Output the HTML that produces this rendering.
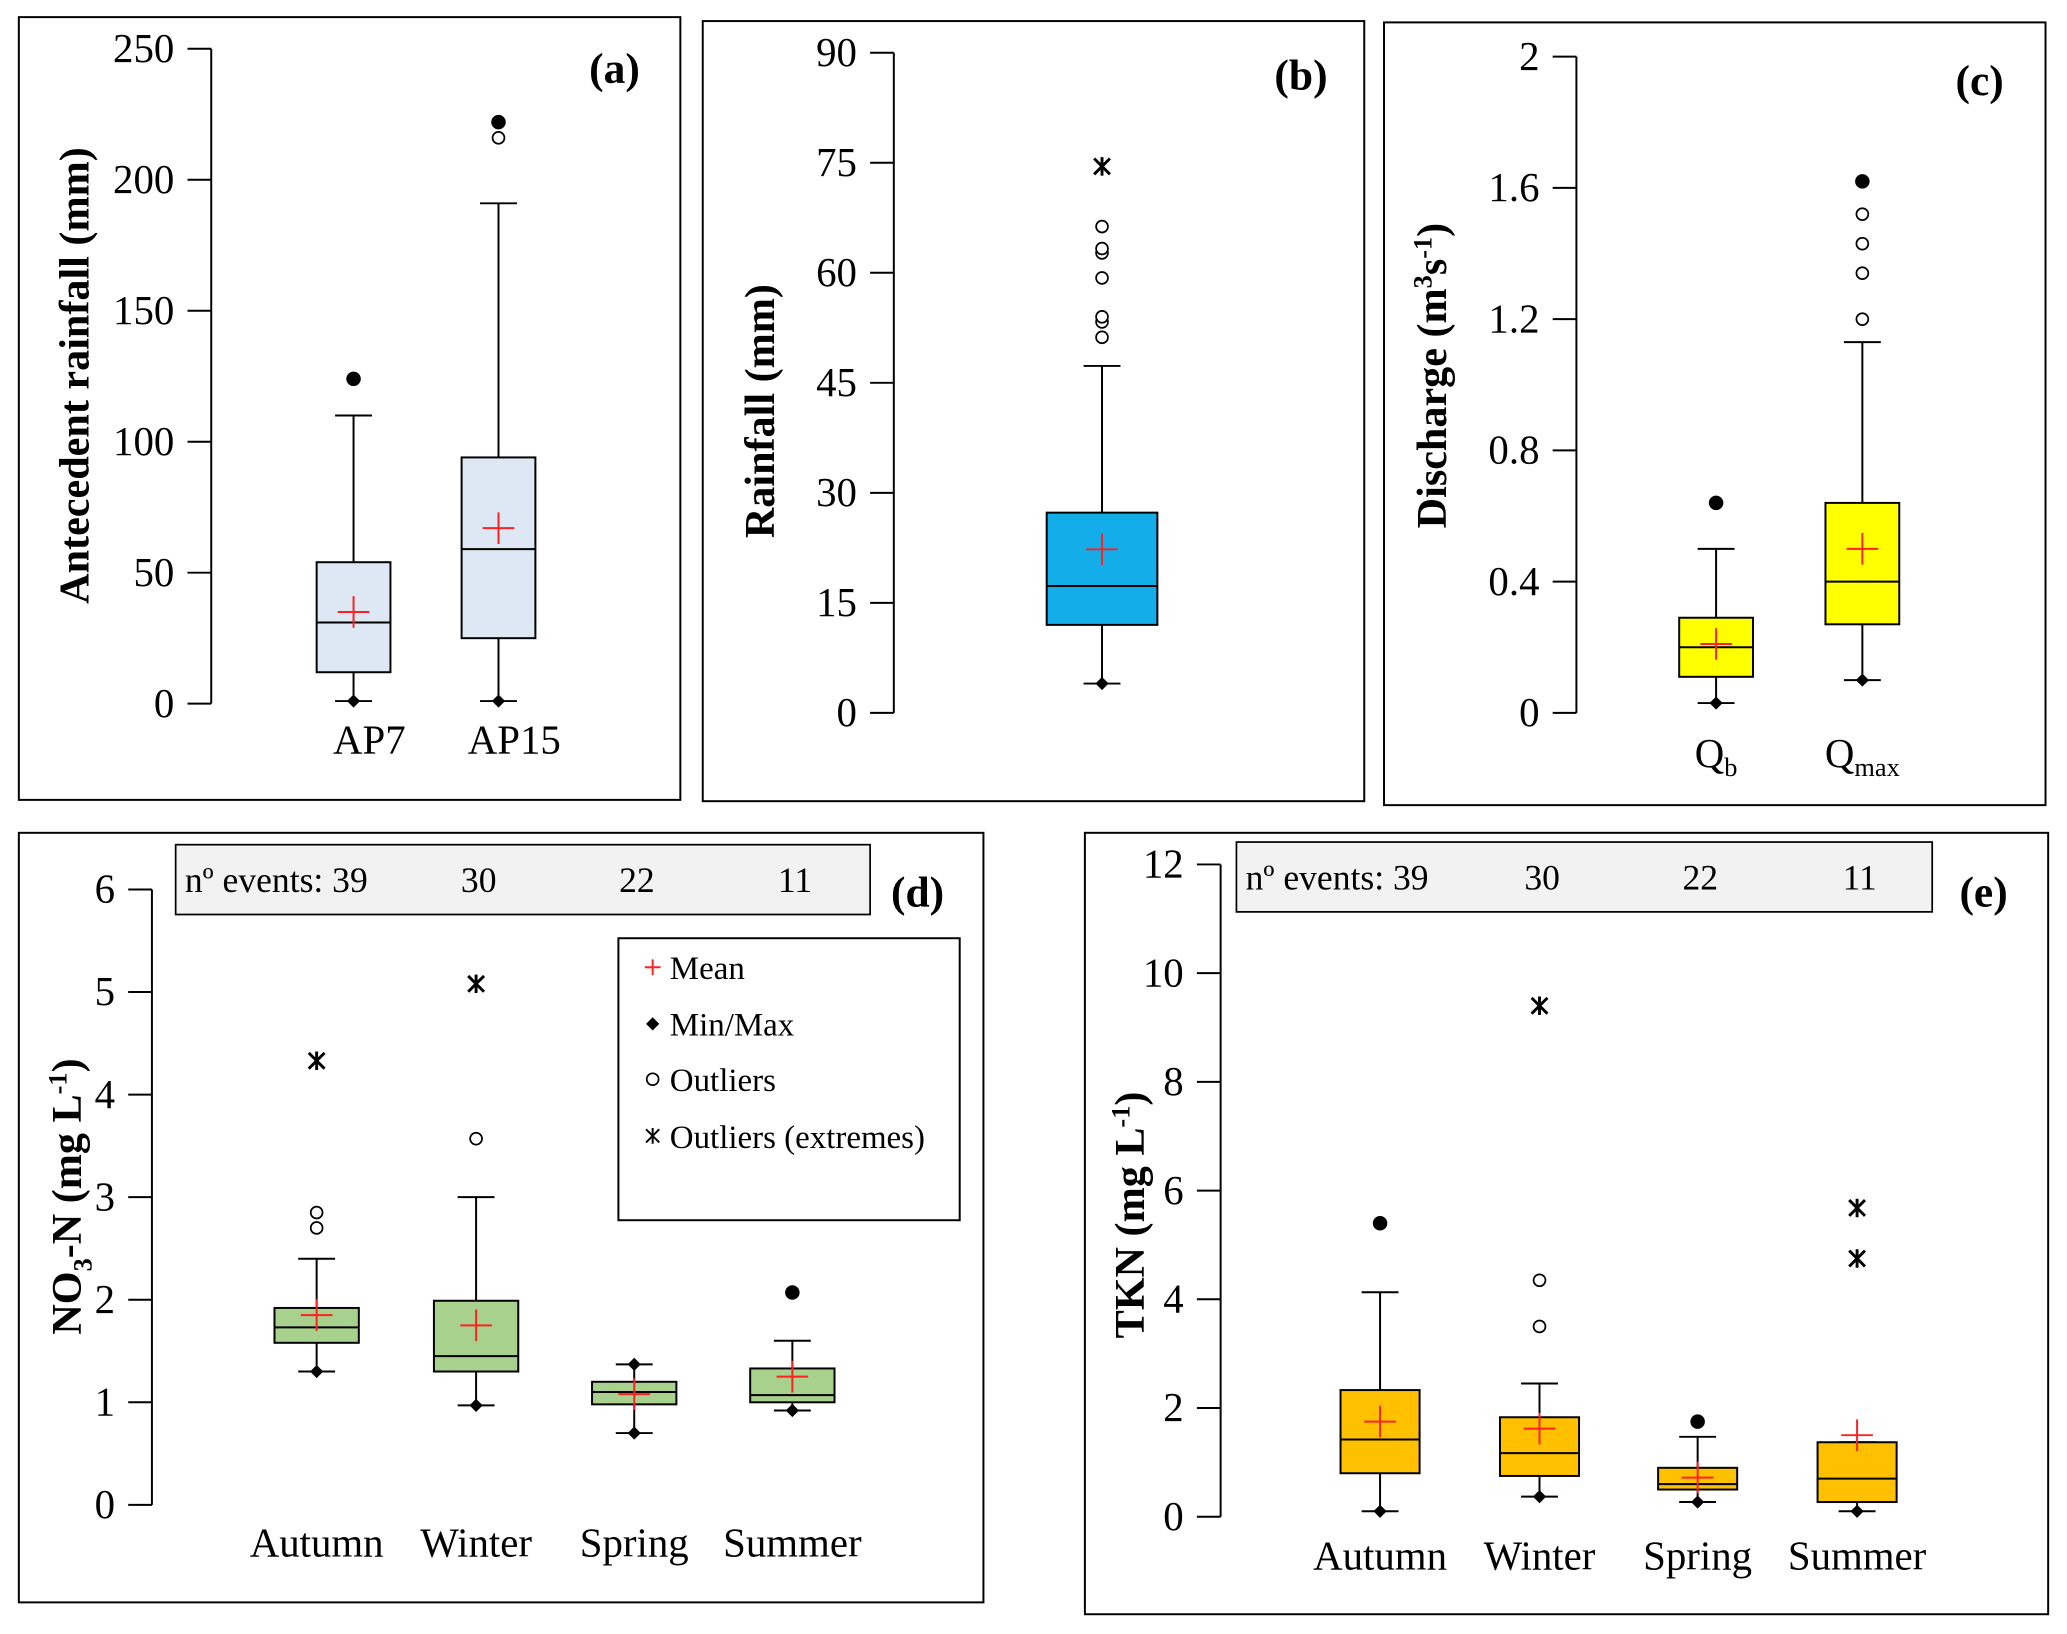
<!DOCTYPE html>
<html><head><meta charset="utf-8"><style>
html,body{margin:0;padding:0;background:#fff}
svg, svg text{font-family:"Liberation Serif","Times New Roman",serif}
svg{display:block}
</style></head><body>
<svg id="fig" width="2067" height="1634" viewBox="0 0 1568 1240" xmlns="http://www.w3.org/2000/svg" font-family="Liberation Serif, serif"></svg>
<script>
// ---- data ----
const catsA=["AP7","AP15"];
const q1A=[12,25], medA=[31,59], q3A=[54,94], whiHiA=[110,191], minA=[1,1], meanA=[35,67];
const outOpenA=[[],[216]], outFillA=[[124],[222]], outExtA=[[],[]];
const ticksA=[0,50,100,150,200,250];

const catsB=[""];
const q1B=[12], medB=[17.3], q3B=[27.3], whiHiB=[47.3], minB=[4], meanB=[22.3];
const outOpenB=[[51.2,53.3,54,59.3,62.7,63.3,66.3]], outFillB=[[]], outExtB=[[74.5]];
const ticksB=[0,15,30,45,60,75,90];

const catsC=["Qb","Qmax"];
const q1C=[0.11,0.27], medC=[0.2,0.4], q3C=[0.29,0.64], whiHiC=[0.5,1.13], minC=[0.03,0.1], meanC=[0.21,0.5];
const outOpenC=[[],[1.2,1.34,1.43,1.52]], outFillC=[[0.64],[1.62]], outExtC=[[],[]];
const ticksC=[0,0.4,0.8,1.2,1.6,2];

const catsD=["Autumn","Winter","Spring","Summer"];
const eventsD=[39,30,22,11];
const q1D=[1.58,1.3,0.98,1.0], medD=[1.73,1.45,1.1,1.07], q3D=[1.92,1.99,1.2,1.33], whiHiD=[2.4,3.0,1.37,1.6], minD=[1.3,0.97,0.7,0.92], meanD=[1.85,1.75,1.08,1.25];
const outOpenD=[[2.7,2.85],[3.57],[],[]], outFillD=[[],[],[],[2.07]], outExtD=[[4.33],[5.08],[],[]];
const ticksD=[0,1,2,3,4,5,6];

const catsE=["Autumn","Winter","Spring","Summer"];
const eventsE=[39,30,22,11];
const q1E=[0.8,0.75,0.5,0.27], medE=[1.42,1.17,0.6,0.7], q3E=[2.33,1.83,0.9,1.37], whiHiE=[4.13,2.45,1.47,1.37], minE=[0.1,0.37,0.27,0.1], meanE=[1.75,1.62,0.72,1.5];
const outOpenE=[[],[3.5,4.35],[],[]], outFillE=[[5.4],[],[1.75],[]], outExtE=[[],[9.4],[],[5.68,4.75]];
const ticksE=[0,2,4,6,8,10,12];

const NS="http://www.w3.org/2000/svg";
const svg=document.getElementById('fig');
const FF='Liberation Serif, Times New Roman, serif';
function mk(tag,attrs,parent,text){const e=document.createElementNS(NS,tag);for(const k in attrs)e.setAttribute(k,attrs[k]);if(tag==='text')e.setAttribute('font-family',FF);if(text!==undefined)e.textContent=text;(parent||svg).appendChild(e);return e;}

function panel(o){
  const g=mk('g',{});
  
  
  const fr=mk('rect',{x:o.fx,y:o.fy,width:o.fw,height:o.fh,fill:'none',stroke:'#000','stroke-width':1.5},g);
  
  const ymax=o.ticks[o.ticks.length-1];
  const Y=v=>o.y0-(v/ymax)*(o.y0-o.yTop);
  const ax=mk('line',{x1:o.ax,x2:o.ax,y1:Y(0),y2:Y(ymax),stroke:'#000','stroke-width':1.5},g);
  
  o.ticks.forEach(t=>{
    const tl=mk('line',{x1:o.ax-18,x2:o.ax,y1:Y(t),y2:Y(t),stroke:'#000','stroke-width':1.5},g);
    
    const tx=mk('text',{x:o.ax-28,y:Y(t)+10,'text-anchor':'end','font-size':31},g,String(t));
    
  });
  const tt=mk('text',{x:0,y:0,transform:`translate(${o.tx},${o.ty}) rotate(-90)`,'text-anchor':'middle','font-size':32,'font-weight':'bold'},g);
  
  tt.innerHTML=o.title;
  const pl=mk('text',{x:o.lx,y:o.ly,'text-anchor':'middle','font-size':33,'font-weight':'bold'},g,o.label);
  
  const hw=o.bw/2;
  o.cats.forEach((c,i)=>{
    const cx=o.cx[i];
    const bg=mk('g',{},g);
    
    
    mk('line',{x1:cx,x2:cx,y1:Y(o.q3[i]),y2:Y(o.whi[i]),stroke:'#000','stroke-width':1.5},bg);
    mk('line',{x1:cx,x2:cx,y1:Y(o.q1[i]),y2:Y(o.min[i]),stroke:'#000','stroke-width':1.5},bg);
    mk('line',{x1:cx-14,x2:cx+14,y1:Y(o.whi[i]),y2:Y(o.whi[i]),stroke:'#000','stroke-width':1.5},bg);
    mk('line',{x1:cx-14,x2:cx+14,y1:Y(o.min[i]),y2:Y(o.min[i]),stroke:'#000','stroke-width':1.5},bg);
    mk('rect',{x:cx-hw,y:Y(o.q3[i]),width:o.bw,height:Y(o.q1[i])-Y(o.q3[i]),fill:o.fill,stroke:'#000','stroke-width':1.5},bg);
    mk('line',{x1:cx-hw,x2:cx+hw,y1:Y(o.med[i]),y2:Y(o.med[i]),stroke:'#000','stroke-width':1.5},bg);
    const dy=Y(o.min[i]);
    mk('path',{d:`M${cx} ${dy-5}L${cx+5} ${dy}L${cx} ${dy+5}L${cx-5} ${dy}Z`,fill:'#000'},bg);
    if(o.diamondMax&&o.diamondMax[i]){const my=Y(o.whi[i]);mk('path',{d:`M${cx} ${my-5}L${cx+5} ${my}L${cx} ${my+5}L${cx-5} ${my}Z`,fill:'#000'},bg);}
    const m=Y(o.mean[i]);
    mk('path',{d:`M${cx-12} ${m}H${cx+12}M${cx} ${m-12}V${m+12}`,stroke:'#ff2020','stroke-width':1.5},bg);
    o.open[i].forEach(v=>mk('circle',{cx:cx,cy:Y(v),r:4.5,fill:'#fff',stroke:'#000','stroke-width':1.3},bg));
    o.filled[i].forEach(v=>mk('circle',{cx:cx,cy:Y(v),r:5.5,fill:'#000'},bg));
    o.ext[i].forEach(v=>{const y=Y(v);mk('path',{d:`M${cx-6} ${y-6}L${cx+6} ${y+6}M${cx+6} ${y-6}L${cx-6} ${y+6}M${cx} ${y-7}V${y+7}`,stroke:'#000','stroke-width':2.2},bg);});
    if(c){const cl=mk('text',{x:cx+(o.cxOff||0),y:o.catY,'text-anchor':'middle','font-size':31},g);
      
      cl.innerHTML=o.catHtml?o.catHtml[i]:c;}
  });
  if(o.events){
    const eb=mk('rect',{x:o.ebx,y:o.eby,width:o.ebw,height:o.ebh,fill:'#f2f2f2',stroke:'#000','stroke-width':1.3},g);
    
    o.events.forEach((n,i)=>{
      const et=mk('text',{x:i==0?o.ebx+7:o.cx[i]+2,y:o.eby+36,'text-anchor':i==0?'start':'middle','font-size':27},g,i==0?'nº events: '+n:String(n));
      
    });
  }
}

panel({name:'panel-a',fx:14,fy:13,fw:502,fh:594,ax:160,y0:534,yTop:37,ticks:ticksA,title:'Antecedent rainfall (mm)',tx:67,ty:285,label:'(a)',lx:466,ly:63,
  cats:catsA,cx:[268,378],bw:56,fill:'#dde8f4',q1:q1A,med:medA,q3:q3A,whi:whiHiA,min:minA,mean:meanA,open:outOpenA,filled:outFillA,ext:outExtA,catY:572,cxOff:12});
panel({name:'panel-b',fx:533,fy:16,fw:502,fh:592,ax:678,y0:541,yTop:40,ticks:ticksB,title:'Rainfall (mm)',tx:587,ty:312,label:'(b)',lx:987,ly:68,
  cats:catsB,cx:[836],bw:84,fill:'#13aeea',q1:q1B,med:medB,q3:q3B,whi:whiHiB,min:minB,mean:meanB,open:outOpenB,filled:outFillB,ext:outExtB,catY:580});
panel({name:'panel-c',fx:1050,fy:17,fw:502,fh:594,ax:1196,y0:541,yTop:43,ticks:ticksC,title:'Discharge (m<tspan font-size="20" dy="-11">3</tspan><tspan dy="11">s</tspan><tspan font-size="20" dy="-11">-1</tspan><tspan dy="11">)</tspan>',tx:1097,ty:285,label:'(c)',lx:1502,ly:72,
  cats:catsC,cx:[1302,1413],bw:56,fill:'#ffff00',q1:q1C,med:medC,q3:q3C,whi:whiHiC,min:minC,mean:meanC,open:outOpenC,filled:outFillC,ext:outExtC,catY:582,cxOff:0,
  catHtml:['Q<tspan font-size="20" dy="7">b</tspan>','Q<tspan font-size="20" dy="7">max</tspan>']});
panel({name:'panel-d',fx:14,fy:632,fw:732,fh:584,ax:115,y0:1142,yTop:675,ticks:ticksD,title:'NO<tspan font-size="20" dy="8">3</tspan><tspan dy="-8">-N (mg L</tspan><tspan font-size="20" dy="-11">-1</tspan><tspan dy="11">)</tspan>',tx:61,ty:908,label:'(d)',lx:696,ly:688,
  cats:catsD,cx:[240,361,481,601],bw:64,fill:'#a9d18e',q1:q1D,med:medD,q3:q3D,whi:whiHiD,min:minD,mean:meanD,open:outOpenD,filled:outFillD,ext:outExtD,catY:1181,diamondMax:[0,0,1,0],
  events:eventsD,ebx:133,eby:641,ebw:527,ebh:53});
panel({name:'panel-e',fx:823,fy:632,fw:731,fh:593,ax:926,y0:1151,yTop:656,ticks:ticksE,title:'TKN (mg L<tspan font-size="20" dy="-11">-1</tspan><tspan dy="11">)</tspan>',tx:868,ty:922,label:'(e)',lx:1505,ly:688,
  cats:catsE,cx:[1047,1168,1288,1409],bw:60,fill:'#ffc000',q1:q1E,med:medE,q3:q3E,whi:whiHiE,min:minE,mean:meanE,open:outOpenE,filled:outFillE,ext:outExtE,catY:1191,
  events:eventsE,ebx:938,eby:639,ebw:528,ebh:53});

// legend
const lg=mk('g',{});


mk('rect',{x:469,y:712,width:259,height:214,fill:'#fff',stroke:'#000','stroke-width':1.5},lg);
const legLabels=['Mean','Min/Max','Outliers','Outliers (extremes)'];
const legY=[734,777,819,862];
legLabels.forEach((t,i)=>{
  const y=legY[i],x=495;
  if(i==0)mk('path',{d:`M${x-6} ${y}H${x+6}M${x} ${y-6}V${y+6}`,stroke:'#ff2020','stroke-width':1.5},lg);
  if(i==1)mk('path',{d:`M${x} ${y-5}L${x+5} ${y}L${x} ${y+5}L${x-5} ${y}Z`,fill:'#000'},lg);
  if(i==2)mk('circle',{cx:x,cy:y,r:4.5,fill:'#fff',stroke:'#000','stroke-width':1.3},lg);
  if(i==3)mk('path',{d:`M${x-5} ${y-5}L${x+5} ${y+5}M${x+5} ${y-5}L${x-5} ${y+5}M${x} ${y-6}V${y+6}`,stroke:'#000','stroke-width':1.5},lg);
  const lt=mk('text',{x:508,y:y+9,'font-size':25},lg,t);
  
  
});
</script>
</body></html>
